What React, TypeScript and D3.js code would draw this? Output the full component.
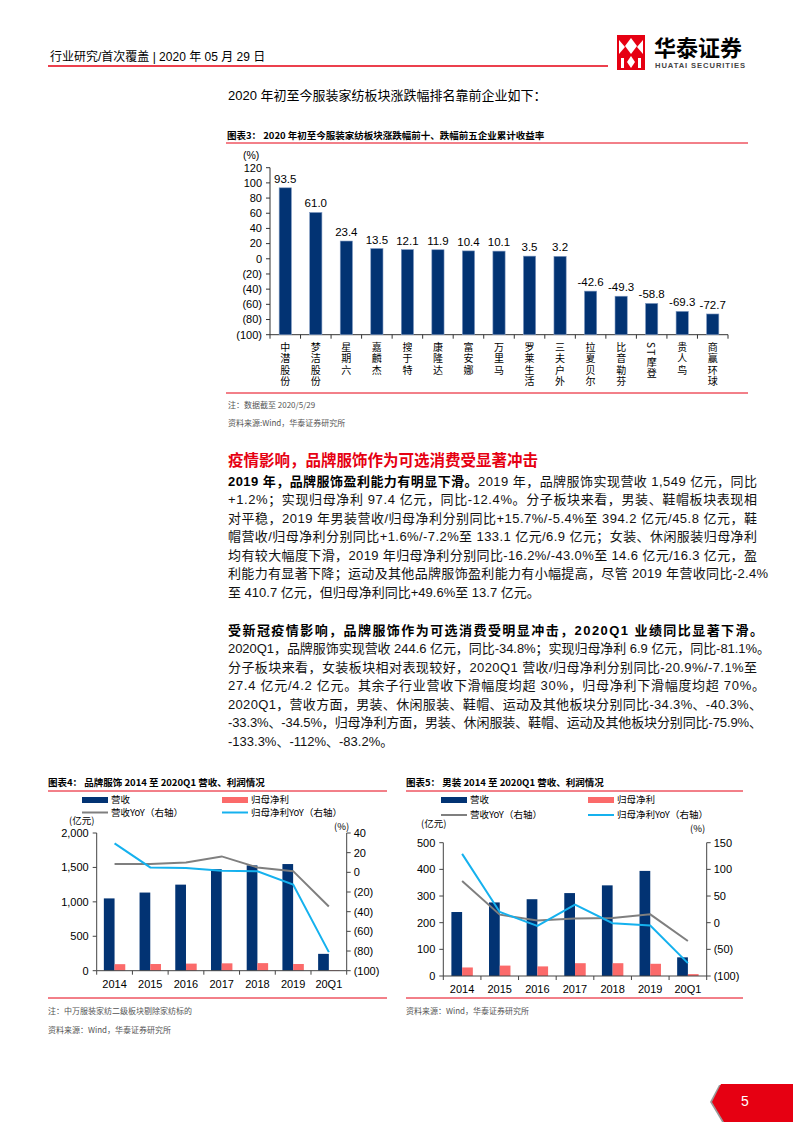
import React from 'react';
import * as d3 from 'd3';

// ---------- DATA ----------
const companies = ['中潜股份', '梦洁股份', '星期六', '嘉麟杰', '搜于特', '康隆达', '富安娜', '万里马', '罗莱生活', '三夫户外', '拉夏贝尔', '比音勒芬', 'ST摩登', '贵人鸟', '商赢环球'];
const returns = [93.5, 61.0, 23.4, 13.5, 12.1, 11.9, 10.4, 10.1, 3.5, 3.2, -42.6, -49.3, -58.8, -69.3, -72.7];
const returnTicks = [120, 100, 80, 60, 40, 20, 0, -20, -40, -60, -80, -100];

const years = ['2014', '2015', '2016', '2017', '2018', '2019', '20Q1'];
const brandRevenue = [1050, 1135, 1250, 1475, 1530, 1549, 244.6];
const brandProfit = [95, 97, 103, 107, 110, 97.4, 6.9];
const brandRevYoY = [8.5, 8.5, 10, 16.2, 5, 1.2, -34.8];
const brandProfitYoY = [29.5, 5, 4.5, 1.5, 1, -12.4, -81.1];
const brandLeftTicks = [0, 500, 1000, 1500, 2000];
const brandRightTicks = [40, 20, 0, -20, -40, -60, -80, -100];

const menRevenue = [240, 276, 288, 311, 340, 394.2, 70];
const menProfit = [32, 39, 36, 48, 48, 45.8, 7];
const menRevYoY = [78, 15, 4, 8, 9, 15.7, -34.3];
const menProfitYoY = [129, 20, -6, 34, -1, -5.4, -75.9];
const menLeftTicks = [0, 100, 200, 300, 400, 500];
const menRightTicks = [150, 100, 50, 0, -50, -100];

const legendLabels = ['营收', '归母净利', '营收YoY（右轴）', '归母净利YoY（右轴）'];

const para1: [string, string][] = [
  ['2019 年，品牌服饰盈利能力有明显下滑。', '2019 年，品牌服饰实现营收 1,549 亿元，同比'],
  ['', '+1.2%；实现归母净利 97.4 亿元，同比-12.4%。分子板块来看，男装、鞋帽板块表现相'],
  ['', '对平稳，2019 年男装营收/归母净利分别同比+15.7%/-5.4%至 394.2 亿元/45.8 亿元，鞋'],
  ['', '帽营收/归母净利分别同比+1.6%/-7.2%至 133.1 亿元/6.9 亿元；女装、休闲服装归母净利'],
  ['', '均有较大幅度下滑，2019 年归母净利分别同比-16.2%/-43.0%至 14.6 亿元/16.3 亿元，盈'],
  ['', '利能力有显著下降；运动及其他品牌服饰盈利能力有小幅提高，尽管 2019 年营收同比-2.4%'],
  ['', '至 410.7 亿元，但归母净利同比+49.6%至 13.7 亿元。'],
];
const para2: [string, string][] = [
  ['受新冠疫情影响，品牌服饰作为可选消费受明显冲击，2020Q1 业绩同比显著下滑。', ''],
  ['', '2020Q1，品牌服饰实现营收 244.6 亿元，同比-34.8%；实现归母净利 6.9 亿元，同比-81.1%。'],
  ['', '分子板块来看，女装板块相对表现较好，2020Q1 营收/归母净利分别同比-20.9%/-7.1%至'],
  ['', '27.4 亿元/4.2 亿元。其余子行业营收下滑幅度均超 30%，归母净利下滑幅度均超 70%。'],
  ['', '2020Q1，营收方面，男装、休闲服装、鞋帽、运动及其他板块分别同比-34.3%、-40.3%、'],
  ['', '-33.3%、-34.5%，归母净利方面，男装、休闲服装、鞋帽、运动及其他板块分别同比-75.9%、'],
  ['', '-133.3%、-112%、-83.2%。'],
];

// ---------- LAYOUT ----------
const FONT = "'Liberation Sans', Arial, 'Noto Sans CJK SC', sans-serif";
const CJK = "'Noto Sans CJK SC', 'Liberation Sans', sans-serif";
const NAVY = '#023373';
const PINK = '#fb6a6a';
const GRAY = '#7f7f7f';
const BLUE = '#15b1ee';
const RED = '#e60012';
const para1Ends = [757, 757, 757, 757, 757, 768];
const para2Ends = [763, 770, 757, 765, 762, 762];

const fmtParen = (v: number) => (v < 0 ? `(${Math.abs(v)})` : `${v}`);

function ReturnChart() {
  const x = d3.scaleBand<string>().domain(companies).range([270, 728]).paddingInner(0.6).paddingOuter(0.3);
  const y = d3.scaleLinear().domain([-100, 120]).range([334.7, 167.7]);
  const step = x.step();
  return (
    <g fontFamily={FONT}>
      <text x={243} y={159} fontSize={10.5}>(%)</text>
      <line x1={270} x2={270} y1={y(120)} y2={y(-100)} stroke="#333" strokeWidth={1} />
      {returnTicks.map((t) => (
        <g key={t}>
          <line x1={266} x2={270} y1={y(t)} y2={y(t)} stroke="#333" />
          <text x={262} y={y(t)} dy="0.35em" textAnchor="end" fontSize={11}>{fmtParen(t)}</text>
        </g>
      ))}
      <line x1={270} x2={728} y1={y(-100)} y2={y(-100)} stroke="#333" />
      {d3.range(companies.length + 1).map((i) => (
        <line key={i} x1={270 + i * step} x2={270 + i * step} y1={y(-100)} y2={y(-100) + 4} stroke="#333" />
      ))}
      {companies.map((c, i) => {
        const bx = x(c)!;
        const top = y(returns[i]);
        const cx = bx + x.bandwidth() / 2;
        return (
          <g key={c}>
            <rect x={bx} y={top} width={x.bandwidth()} height={y(-100) - top} fill={NAVY} stroke="#7f98c0" strokeWidth={0.6} />
            <text x={cx} y={top - 5} textAnchor="middle" fontSize={11.5}>{returns[i].toFixed(1)}</text>
            <text x={cx} y={342} fontSize={10} fontFamily={CJK}
              style={{ writingMode: 'vertical-rl', letterSpacing: '1.5px' } as React.CSSProperties}>{c}</text>
          </g>
        );
      })}
    </g>
  );
}

type DualProps = {
  x0: number; x1: number; yTop: number; yBot: number;
  leftDomain: [number, number]; rightDomain: [number, number];
  leftTicks: number[]; rightTicks: number[];
  rev: number[]; prof: number[]; revYoY: number[]; profYoY: number[];
  barFrac: number; leftFmt: (v: number) => string;
};

function DualChart(p: DualProps) {
  const x = d3.scaleBand<string>().domain(years).range([p.x0, p.x1]);
  const yl = d3.scaleLinear().domain(p.leftDomain).range([p.yBot, p.yTop]);
  const yr = d3.scaleLinear().domain(p.rightDomain).range([p.yBot, p.yTop]);
  const bw = x.step() * p.barFrac;
  const cx = (i: number) => x(years[i])! + x.bandwidth() / 2;
  const gLine = d3.line<number>().x((_, i) => cx(i)).y((d) => yr(d));
  return (
    <g fontFamily={FONT}>
      {years.map((yv, i) => (
        <g key={yv}>
          <rect x={cx(i) - bw} y={yl(p.rev[i])} width={bw} height={p.yBot - yl(p.rev[i])} fill={NAVY} />
          <rect x={cx(i)} y={yl(p.prof[i])} width={bw} height={p.yBot - yl(p.prof[i])} fill={PINK} />
          <text x={cx(i)} y={p.yBot + 17} textAnchor="middle" fontSize={11}>{yv}</text>
        </g>
      ))}
      <path d={gLine(p.revYoY)!} fill="none" stroke={GRAY} strokeWidth={2} />
      <path d={gLine(p.profYoY)!} fill="none" stroke={BLUE} strokeWidth={2} />
      <line x1={p.x0} x2={p.x0} y1={p.yTop} y2={p.yBot} stroke="#444" />
      <line x1={p.x1} x2={p.x1} y1={p.yTop} y2={p.yBot} stroke="#444" />
      <line x1={p.x0} x2={p.x1} y1={p.yBot} y2={p.yBot} stroke="#444" />
      {d3.range(years.length + 1).map((i) => (
        <line key={i} x1={p.x0 + i * x.step()} x2={p.x0 + i * x.step()} y1={p.yBot} y2={p.yBot + 4} stroke="#444" />
      ))}
      {p.leftTicks.map((t) => (
        <g key={t}>
          <line x1={p.x0 - 4} x2={p.x0} y1={yl(t)} y2={yl(t)} stroke="#444" />
          <text x={p.x0 - 8} y={yl(t)} dy="0.35em" textAnchor="end" fontSize={11}>{p.leftFmt(t)}</text>
        </g>
      ))}
      {p.rightTicks.map((t) => (
        <g key={t}>
          <line x1={p.x1} x2={p.x1 + 4} y1={yr(t)} y2={yr(t)} stroke="#444" />
          <text x={p.x1 + 7} y={yr(t)} dy="0.35em" textAnchor="start" fontSize={11}>{fmtParen(t)}</text>
        </g>
      ))}
    </g>
  );
}

function Legend({ x0, x1, y0, y1 }: { x0: number; x1: number; y0: number; y1: number }) {
  return (
    <g fontFamily={CJK} fontSize={9.5}>
      <rect x={x0} y={y0 - 3} width={26} height={6} fill={NAVY} />
      <text x={x0 + 29} y={y0} dy="0.35em">{legendLabels[0]}</text>
      <rect x={x1} y={y0 - 3} width={26} height={6} fill={PINK} />
      <text x={x1 + 29} y={y0} dy="0.35em">{legendLabels[1]}</text>
      <line x1={x0} x2={x0 + 26} y1={y1} y2={y1} stroke={GRAY} strokeWidth={2} />
      <text x={x0 + 29} y={y1} dy="0.35em">{legendLabels[2]}</text>
      <line x1={x1} x2={x1 + 26} y1={y1} y2={y1} stroke={BLUE} strokeWidth={2} />
      <text x={x1 + 29} y={y1} dy="0.35em">{legendLabels[3]}</text>
    </g>
  );
}

function Paragraph({ lines, ends, y0 }: { lines: [string, string][]; ends: number[]; y0: number }) {
  return (
    <g fontFamily={FONT} fontSize={13} fill="#111">
      {lines.map((l, i) => (
        <text key={i} x={228} y={y0 + i * 18.5}
          {...(i < ends.length ? { textLength: ends[i] - 228, lengthAdjust: 'spacing' } : {})}>
          {l[0] && <tspan fontWeight="bold" fill="#000">{l[0]}</tspan>}
          {l[1] && <tspan>{l[1]}</tspan>}
        </text>
      ))}
    </g>
  );
}

export default function App() {
  return (
    <svg width={793} height={1122} style={{ position: 'absolute', left: 0, top: 0, background: '#fff' }}>
      {/* header */}
      <text x={50} y={61} fontSize={12} fontFamily={FONT}>行业研究/首次覆盖 | 2020 年 05 月 29 日</text>
      <line x1={48} x2={608} y1={66} y2={66} stroke={RED} strokeWidth={1.5} />
      <g>
        <rect x={617} y={35} width={28} height={35} fill={RED} />
        <polygon points="619,40 625,47 619,54" fill="#fff" />
        <polygon points="643,40 637,47 643,54" fill="#fff" />
        <polygon points="631,38 637,46 631,54 625,46" fill="#fff" />
        <polygon points="631,56 635,62 631,68 627,62" fill="#fff" />
        <rect x={621} y={58} width={3} height={10} fill="#fff" />
        <rect x={638} y={58} width={3} height={10} fill="#fff" />
      </g>
      <text x={654} y={56} fontSize={22} fontWeight="bold" fontFamily={CJK}>华泰证券</text>
      <text x={655} y={68} fontSize={7.6} fontWeight="bold" fontFamily={FONT} fill="#444" textLength={90} lengthAdjust="spacing">HUATAI SECURITIES</text>

      <text x={228} y={100} fontSize={13} fontFamily={FONT}>2020 年初至今服装家纺板块涨跌幅排名靠前企业如下：</text>

      {/* chart 3 */}
      <text x={227} y={139} fontSize={9.5} fontWeight="bold" fontFamily={CJK}>图表3：  2020 年初至今服装家纺板块涨跌幅前十、跌幅前五企业累计收益率</text>
      <line x1={226} x2={748} y1={143} y2={143} stroke={RED} strokeWidth={1} />
      <ReturnChart />
      <line x1={226} x2={748} y1={393} y2={393} stroke={RED} strokeWidth={1} />
      <text x={228} y={408} fontSize={8} fill="#555" fontFamily={CJK}>注：数据截至 2020/5/29</text>
      <text x={228} y={426} fontSize={8} fill="#555" fontFamily={CJK}>资料来源:Wind，华泰证券研究所</text>

      {/* text */}
      <text x={228} y={466} fontSize={15.5} fontWeight="bold" fill={RED} fontFamily={CJK}>疫情影响，品牌服饰作为可选消费受显著冲击</text>
      <Paragraph lines={para1} ends={para1Ends} y0={485.5} />
      <Paragraph lines={para2} ends={para2Ends} y0={634.5} />

      {/* chart 4 */}
      <text x={48} y={786} fontSize={9.5} fontWeight="bold" fontFamily={CJK}>图表4：  品牌服饰 2014 至 2020Q1 营收、利润情况</text>
      <line x1={48} x2={387} y1={791} y2={791} stroke={RED} strokeWidth={1} />
      <Legend x0={82} x1={222} y0={800} y1={812.5} />
      <text x={69} y={824} fontSize={9.5} fontFamily={CJK}>(亿元)</text>
      <text x={334} y={829.5} fontSize={9.5} fontFamily={CJK}>(%)</text>
      <DualChart x0={96.7} x1={346.7} yTop={833} yBot={970.7} leftDomain={[0, 2000]} rightDomain={[-100, 40]}
        leftTicks={brandLeftTicks} rightTicks={brandRightTicks} rev={brandRevenue} prof={brandProfit}
        revYoY={brandRevYoY} profYoY={brandProfitYoY} barFrac={0.3} leftFmt={d3.format(',')} />
      <line x1={48} x2={387} y1={998} y2={998} stroke={RED} strokeWidth={1} />
      <text x={48} y={1014} fontSize={8} fill="#555" fontFamily={CJK}>注：中万服装家纺二级板块剔除家纺标的</text>
      <text x={48} y={1033} fontSize={8} fill="#555" fontFamily={CJK}>资料来源：Wind，华泰证券研究所</text>

      {/* chart 5 */}
      <text x={406} y={786} fontSize={9.5} fontWeight="bold" fontFamily={CJK}>图表5：  男装 2014 至 2020Q1 营收、利润情况</text>
      <line x1={406} x2={743} y1={791} y2={791} stroke={RED} strokeWidth={1} />
      <Legend x0={441} x1={588} y0={800} y1={815} />
      <text x={421} y={827} fontSize={9.5} fontFamily={CJK}>(亿元)</text>
      <text x={690} y={832} fontSize={9.5} fontFamily={CJK}>(%)</text>
      <DualChart x0={443.3} x1={706.7} yTop={842.7} yBot={976} leftDomain={[0, 500]} rightDomain={[-100, 150]}
        leftTicks={menLeftTicks} rightTicks={menRightTicks} rev={menRevenue} prof={menProfit}
        revYoY={menRevYoY} profYoY={menProfitYoY} barFrac={0.285} leftFmt={d3.format('')} />
      <line x1={406} x2={743} y1={998} y2={998} stroke={RED} strokeWidth={1} />
      <text x={406} y={1014} fontSize={8} fill="#555" fontFamily={CJK}>资料来源：Wind，华泰证券研究所</text>

      {/* page number */}
      <polygon points="719,1085 793,1085 793,1122 722,1122 710,1102" fill="#999" />
      <polygon points="721,1084 793,1084 793,1122 724,1122 712,1102" fill={RED} />
      <text x={741} y={1106} fontSize={14} fill="#fff" fontFamily={FONT}>5</text>
    </svg>
  );
}
